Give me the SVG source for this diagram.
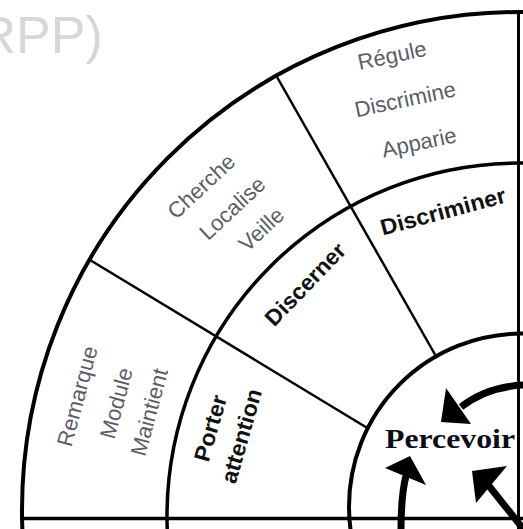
<svg xmlns="http://www.w3.org/2000/svg" width="523" height="529" viewBox="0 0 523 529">
<style>
.ring{fill:none;stroke:#000}
.div{stroke:#000;stroke-width:2.5;fill:none}
.verb{font-family:"Liberation Sans",Arial,sans-serif;font-size:22px;fill:#5a5d68;text-anchor:middle}
.lab{font-family:"Liberation Sans",Arial,sans-serif;font-size:22.5px;font-weight:bold;fill:#111;text-anchor:middle}
.arrow{fill:none;stroke:#000;stroke-width:7}
.head{fill:#000}
</style>
<rect width="523" height="529" fill="#fff"/>
<g id="title">
<text x="-21.5" y="53" font-family="Liberation Sans, Arial, sans-serif" font-size="52" fill="#d7d7d7">RPP)</text>
</g>
<g id="rings">
<circle cx="520" cy="510" r="498" class="ring" stroke-width="4"/>
<circle cx="520" cy="516" r="353" class="ring" stroke-width="3.5"/>
<circle cx="522" cy="506.5" r="173" class="ring" stroke-width="4"/>
<line x1="20" y1="518.5" x2="523" y2="518.5" stroke="#000" stroke-width="3.5"/>
<line x1="518.5" y1="12" x2="518.5" y2="529" stroke="#000" stroke-width="3"/>
</g>
<g id="connectors">
<line class="div" x1="90" y1="260" x2="369" y2="429"/>
<line class="div" x1="277" y1="77" x2="437" y2="358"/>
<path class="arrow" d="M 526 385 Q 488 386 461 407"/>
<polygon class="head" points="446,388 441,422 471,424"/>
<path class="arrow" d="M 401 531 Q 401 495 406 476"/>
<polygon class="head" points="410,456 385,468 426,485"/>
<line class="arrow" x1="525" y1="531" x2="489" y2="486"/>
<polygon class="head" points="472,471 507,466 476,503"/>
</g>
<g id="sector-top">
<text class="verb" transform="translate(392,55) rotate(-12)" dy=".36em">Régule</text>
<text class="verb" transform="translate(405,99) rotate(-12)" dy=".36em">Discrimine</text>
<text class="verb" transform="translate(419,142) rotate(-12)" dy=".36em">Apparie</text>
</g>
<g id="sector-middle">
<text class="verb" transform="translate(201,186) rotate(-43)" dy=".36em">Cherche</text>
<text class="verb" transform="translate(232,208) rotate(-43)" dy=".36em">Localise</text>
<text class="verb" transform="translate(261,229) rotate(-43)" dy=".36em">Veille</text>
</g>
<g id="sector-left">
<text class="verb" transform="translate(77,396) rotate(-75)" dy=".36em">Remarque</text>
<text class="verb" transform="translate(116,403) rotate(-75)" dy=".36em">Module</text>
<text class="verb" transform="translate(149,412) rotate(-75)" dy=".36em">Maintient</text>
</g>
<g id="discriminer">
<text class="lab" transform="translate(443,211) rotate(-15)" dy=".36em" textLength="129" lengthAdjust="spacingAndGlyphs">Discriminer</text>
</g>
<g id="discerner">
<text class="lab" transform="translate(305,284) rotate(-46)" dy=".36em" textLength="105" lengthAdjust="spacingAndGlyphs">Discerner</text>
</g>
<g id="porter-attention">
<text class="lab" transform="translate(210,428) rotate(-74)" dy=".36em" textLength="68" lengthAdjust="spacingAndGlyphs">Porter</text>
<text class="lab" transform="translate(241,436) rotate(-74)" dy=".36em" textLength="97" lengthAdjust="spacingAndGlyphs">attention</text>
</g>
<g id="percevoir">
<text x="385" y="448" font-family="Liberation Serif, Times New Roman, serif" font-size="27" font-weight="bold" fill="#0d0d1a" textLength="130" lengthAdjust="spacingAndGlyphs">Percevoir</text>
</g>
</svg>
